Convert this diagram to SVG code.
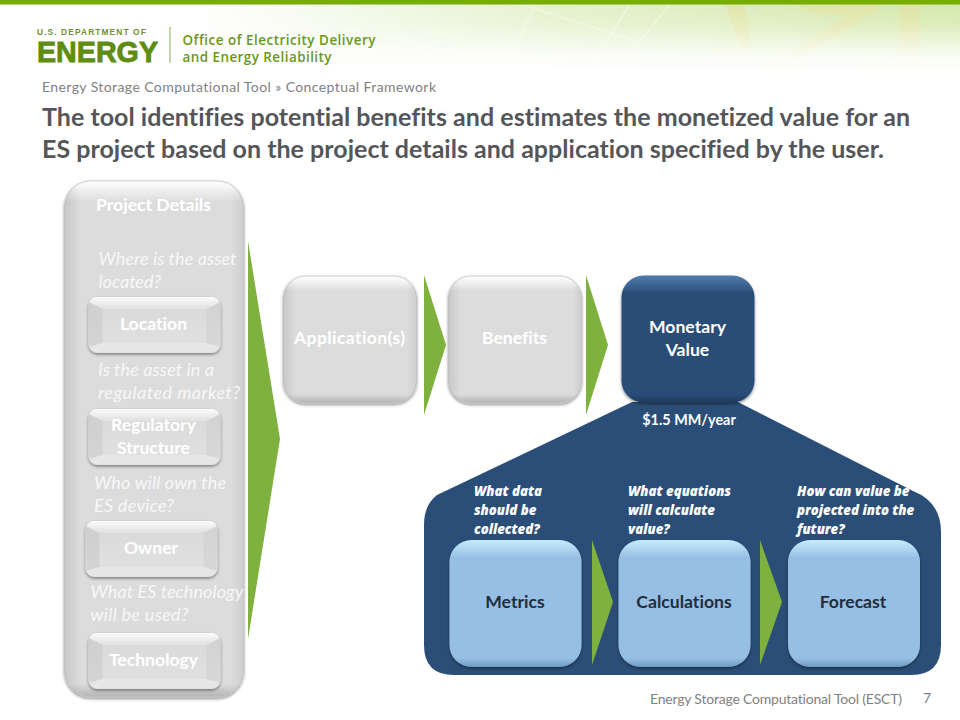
<svg xmlns="http://www.w3.org/2000/svg" width="960" height="720" viewBox="0 0 960 720">
<style>
text{font-family:Lato,"Open Sans","Liberation Sans",sans-serif;font-variant-ligatures:none}
.lb{font-weight:700;font-size:17.6px;text-anchor:middle;fill:#fff}
.dk{font-weight:700;font-size:17.6px;text-anchor:middle;fill:#1f2d3f}
.q{font-style:italic;font-size:18px;fill:#f7f7f7}
.s{font-family:"Open Sans",Lato,sans-serif;font-style:italic;font-weight:800;font-size:13.2px;fill:#fff}
.h{font-weight:700;font-size:25px;fill:#54565a}
.g{font-size:14px;fill:#808184}
.ar{fill:#7fb13f}
.lg{font-family:"Open Sans",sans-serif;font-weight:600;font-size:13.4px;fill:#6a9620}
.card{stroke:#c4c4ca;stroke-width:.8;filter:url(#sh)}
</style>
<defs>
<linearGradient id="hx" x1="0" x2="1" y1="0" y2="0"><stop offset=".2" stop-color="#fff"/><stop offset=".6" stop-color="#e3f0c9"/><stop offset="1" stop-color="#d3e8ab"/></linearGradient>
<linearGradient id="hf" x1="0" x2="0" y1="0" y2="1"><stop offset="0" stop-color="#fff" stop-opacity="0"/><stop offset=".3" stop-color="#fff" stop-opacity=".2"/><stop offset=".75" stop-color="#fff" stop-opacity=".85"/><stop offset="1" stop-color="#fff"/></linearGradient>
<linearGradient id="gt" x1="0" x2="0" y1="0" y2="1"><stop offset="0" stop-color="#fff"/><stop offset=".12" stop-color="#dcdcdc"/><stop offset=".93" stop-color="#dcdcdc"/><stop offset="1" stop-color="#b4b4b4"/></linearGradient>
<linearGradient id="gp" x1="0" x2="0" y1="0" y2="1"><stop offset="0" stop-color="#fff"/><stop offset=".04" stop-color="#dcdcdc"/><stop offset=".975" stop-color="#dcdcdc"/><stop offset="1" stop-color="#b4b4b4"/></linearGradient>
<linearGradient id="side" x1="0" x2="1" y1="0" y2="0"><stop offset="0" stop-color="#000" stop-opacity=".09"/><stop offset=".09" stop-color="#000" stop-opacity="0"/><stop offset=".93" stop-color="#000" stop-opacity="0"/><stop offset="1" stop-color="#000" stop-opacity=".06"/></linearGradient>
<linearGradient id="gb" x1="0" x2="0" y1="0" y2="1"><stop offset="0" stop-color="#d8d8d8"/><stop offset="1" stop-color="#e2e2e2"/></linearGradient>
<linearGradient id="bv" x1="0" x2="0" y1="0" y2="1"><stop offset="0" stop-color="#fbfbfb"/><stop offset="1" stop-color="#e0e0e0"/></linearGradient>
<linearGradient id="bl" x1="0" x2="0" y1="0" y2="1"><stop offset="0" stop-color="#c6ecfd"/><stop offset=".14" stop-color="#97bfe3"/><stop offset=".93" stop-color="#97bfe3"/><stop offset="1" stop-color="#6f9ac4"/></linearGradient>
<linearGradient id="nv" x1="0" x2="0" y1="0" y2="1"><stop offset="0" stop-color="#4f7cad"/><stop offset=".14" stop-color="#2b4e78"/><stop offset=".93" stop-color="#2b4e78"/><stop offset="1" stop-color="#1f3b5e"/></linearGradient>
<filter id="sh" x="-10%" y="-10%" width="120%" height="120%"><feDropShadow dx="0" dy="1.500" stdDeviation="1.400" flood-color="#000" flood-opacity=".45"/></filter>
<g id="btn">
<rect width="132" height="56" rx="9" fill="url(#gb)" filter="url(#sh)"/>
<path d="M7 0 L125 0 Q129 1 131 5 L118 12 L14 12 L1 5 Q3 1 7 0 Z" fill="url(#bv)"/>
<path d="M0 6 L14 12 L14 46 L1 50 Z" fill="#c4c4c4" opacity=".45"/>
<path d="M132 6 L118 12 L118 46 L131 50 Z" fill="#c4c4c4" opacity=".3"/>
<path d="M1 50 L14 46 L118 46 L131 50 Q128 55 123 55 L9 55 Q4 55 1 50 Z" fill="#e6e6e6"/>
</g>
</defs>

<g id="header">
<rect y="0" width="960" height="72" fill="url(#hx)"/>
<g fill="#e6e09a" opacity=".5">
<rect x="899" y="4" width="21" height="60"/>
<polygon points="760,68 860,8 880,8 785,68"/>
<polygon points="725,4 745,4 752,50 742,50"/>
<polygon points="795,4 880,4 860,16 815,14"/>
</g>
<g stroke="#f3f8e4" stroke-width="1.500" fill="none" opacity=".6">
<path d="M520 4 L640 42 M625 60 L670 4 M590 68 L630 4 M510 60 L535 4"/>
</g>
<rect y="4" width="960" height="68" fill="url(#hf)"/>
<rect y="0" width="960" height="4.500" fill="#77ac00"/>
<text x="37" y="35" style="font-family:'Liberation Sans',sans-serif;font-weight:700;font-size:8.400px;letter-spacing:1.100px;fill:#6f8f3a">U.S. DEPARTMENT OF</text>
<text x="37" y="62" style="font-family:'Liberation Sans',sans-serif;font-weight:700;font-size:30px;fill:#5f8d12;stroke:#5f8d12;stroke-width:.9" textLength="121" lengthAdjust="spacingAndGlyphs">ENERGY</text>
<rect x="169.500" y="27" width="1" height="36" fill="#8eab55"/>
<text class="lg" x="182.500" y="45" textLength="193">Office of Electricity Delivery</text>
<text class="lg" x="182.500" y="62" textLength="149">and Energy Reliability</text>
<text class="g" x="42" y="92" textLength="394">Energy Storage Computational Tool » Conceptual Framework</text>
<text class="h" x="42" y="126" textLength="868">The tool identifies potential benefits and estimates the monetized value for an</text>
<text class="h" x="42" y="158" textLength="842">ES project based on the project details and application specified by the user.</text>
<text class="g" x="650" y="704" textLength="252">Energy Storage Computational Tool (ESCT)</text>
<text class="g" x="923" y="703">7</text>
</g>

<g id="project-details">
<rect class="card" x="64.500" y="181" width="179" height="516" rx="26" fill="url(#gp)"/>
<rect x="64.500" y="181" width="179" height="516" rx="26" fill="url(#side)"/>
<text class="lb" x="153.500" y="211">Project Details</text>
<text class="q" x="98.500" y="265" textLength="138">Where is the asset</text>
<text class="q" x="98.500" y="288">located?</text>
<text class="q" x="98" y="376" textLength="116">Is the asset in a</text>
<text class="q" x="98" y="399" textLength="142">regulated market?</text>
<text class="q" x="94" y="489" textLength="132">Who will own the</text>
<text class="q" x="94" y="512" textLength="80">ES device?</text>
<text class="q" x="90.500" y="598" textLength="153">What ES technology</text>
<text class="q" x="90.500" y="621" textLength="98">will be used?</text>
</g>
<g id="location"><use href="#btn" x="88.500" y="297"/><text class="lb" x="153.500" y="330">Location</text></g>
<g id="regulatory-structure"><use href="#btn" x="88.500" y="409"/><text class="lb" x="153.500" y="431">Regulatory</text><text class="lb" x="153.500" y="454">Structure</text></g>
<g id="owner"><use href="#btn" x="85.500" y="521"/><text class="lb" x="151" y="554">Owner</text></g>
<g id="technology"><use href="#btn" x="88.500" y="633"/><text class="lb" x="153.500" y="666">Technology</text></g>

<g id="application"><rect class="card" x="283.500" y="276" width="133" height="127" rx="22" fill="url(#gt)"/><rect x="283.500" y="276" width="133" height="127" rx="22" fill="url(#side)"/><text class="lb" x="349.500" y="344" textLength="111">Application(s)</text></g>
<g id="benefits"><rect class="card" x="448.500" y="276" width="133" height="127" rx="22" fill="url(#gt)"/><rect x="448.500" y="276" width="133" height="127" rx="22" fill="url(#side)"/><text class="lb" x="514.500" y="344">Benefits</text></g>

<g id="detail-panel">
<path d="M437 495 L632 402 L738 402 L913 491 Q941 502 941 532 L941 645 Q941 675 911 675 L454 675 Q424 675 424 645 L424 525 Q424 505 437 495 Z" fill="#2b4e78"/>
<text x="689" y="425" style="font-weight:700;font-size:14.400px;fill:#fff;text-anchor:middle">$1.5 MM/year</text>
<text class="s" x="474" y="496">What data</text><text class="s" x="474" y="515">should be</text><text class="s" x="474" y="534">collected?</text>
<text class="s" x="628" y="496">What equations</text><text class="s" x="628" y="515">will calculate</text><text class="s" x="628" y="534">value?</text>
<text class="s" x="797" y="496">How can value be</text><text class="s" x="797" y="515">projected into the</text><text class="s" x="797" y="534">future?</text>
</g>
<g id="monetary-value"><rect x="621.500" y="275.500" width="133" height="127" rx="22" fill="url(#nv)" filter="url(#sh)"/><text class="lb" x="687.500" y="333">Monetary</text><text class="lb" x="687.500" y="356">Value</text></g>
<g id="metrics"><rect x="449.500" y="540" width="132" height="127" rx="22" fill="url(#bl)" filter="url(#sh)"/><text class="dk" x="515" y="607.500">Metrics</text></g>
<g id="calculations"><rect x="618.500" y="540" width="132" height="127" rx="22" fill="url(#bl)" filter="url(#sh)"/><text class="dk" x="684" y="607.500">Calculations</text></g>
<g id="forecast"><rect x="788" y="540" width="132" height="127" rx="22" fill="url(#bl)" filter="url(#sh)"/><text class="dk" x="853" y="607.500">Forecast</text></g>

<g id="connectors">
<polygon class="ar" points="248,241 280,439 248,639"/>
<polygon class="ar" points="424,275 446,345 424,415"/>
<polygon class="ar" points="586,275 608,345 586,415"/>
<polygon class="ar" points="592,540 613,602 592,665"/>
<polygon class="ar" points="760,540 782,602 760,665"/>
</g>
</svg>
